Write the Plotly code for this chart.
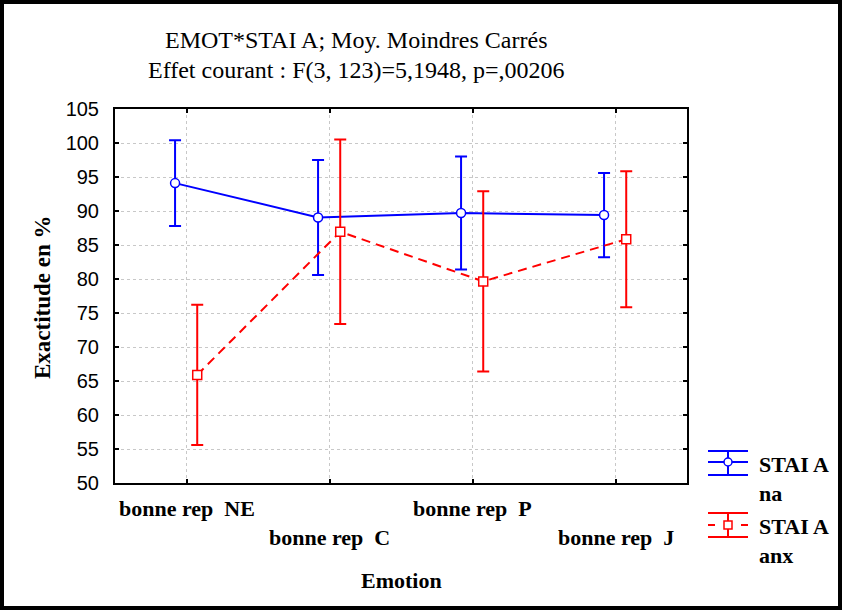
import plotly.graph_objects as go

# ---- data ----
categories = ["bonne rep  NE", "bonne rep  C", "bonne rep  P", "bonne rep  J"]
tick_rows = [0, 1, 0, 1]
series_names = ["STAI A<br>na", "STAI A<br>anx"]
na_mean = [94.1, 89.05, 89.7, 89.4]
na_err = [6.3, 8.45, 8.3, 6.2]
anx_mean = [65.9, 86.95, 79.65, 85.85]
anx_err = [10.3, 13.55, 13.25, 10.0]
y_ticks = [50, 55, 60, 65, 70, 75, 80, 85, 90, 95, 100, 105]
title_lines = ["EMOT*STAI A; Moy. Moindres Carrés",
               "Effet courant : F(3, 123)=5,1948, p=,00206"]
x_title = "Emotion"
y_title = "Exactitude en %"

# ---- layout geometry ----
W, H = 842, 610
L, R, T, B = 115, 687, 109, 483


def px(x):
    return (x - L) / (R - L)


def py(y):
    return (B - y) / (B - T)


BLUE = "#0000FF"
RED = "#FF0000"
serif = "Liberation Serif, Times New Roman, serif"
sans = "Liberation Sans, Arial, sans-serif"

xs = list(range(len(categories)))
off_na, off_anx = -0.08, 0.075

fig = go.Figure()
fig.add_trace(go.Scatter(
    x=[x + off_na for x in xs], y=na_mean, mode="lines+markers",
    name=series_names[0], showlegend=False,
    line=dict(color=BLUE, width=2),
    marker=dict(symbol="circle", size=9, color="white", line=dict(color=BLUE, width=1.5)),
    error_y=dict(type="data", array=na_err, color=BLUE, thickness=2, width=6),
))
fig.add_trace(go.Scatter(
    x=[x + off_anx for x in xs], y=anx_mean, mode="lines+markers",
    name=series_names[1], showlegend=False,
    line=dict(color=RED, width=2, dash="9px,6px"),
    marker=dict(symbol="square", size=9, color="white", line=dict(color=RED, width=1.5)),
    error_y=dict(type="data", array=anx_err, color=RED, thickness=2, width=6),
))

annotations = []
# title
for yy, txt in zip([40, 70], title_lines):
    annotations.append(dict(text=txt, x=px(356), y=py(yy), xref="paper", yref="paper",
                            xanchor="center", yanchor="middle", showarrow=False,
                            font=dict(family=serif, size=24, color="black")))
# x tick labels (two staggered rows)
for i, (lab, row) in enumerate(zip(categories, tick_rows)):
    yy = 508 if row == 0 else 537
    annotations.append(dict(text="<b>%s</b>" % lab, x=i, xref="x", y=py(yy), yref="paper",
                            xanchor="center", yanchor="middle", showarrow=False,
                            font=dict(family=serif, size=22, color="black")))
# axis titles
annotations.append(dict(text="<b>%s</b>" % x_title, x=px(401), y=py(580), xref="paper", yref="paper",
                        xanchor="center", yanchor="middle", showarrow=False,
                        font=dict(family=serif, size=22, color="black")))
annotations.append(dict(text="<b>%s</b>" % y_title, x=px(42), y=py(297), xref="paper", yref="paper",
                        xanchor="center", yanchor="middle", showarrow=False, textangle=-90,
                        font=dict(family=serif, size=23, color="black")))
# legend text
for name, yc in zip(series_names, [479, 541]):
    annotations.append(dict(text="<b>%s</b>" % name, x=px(757), y=py(yc), xref="paper", yref="paper",
                            xanchor="left", yanchor="middle", showarrow=False, align="left",
                            font=dict(family=serif, size=22, color="black")))

shapes = []
# outer frame
shapes.append(dict(type="rect", xref="paper", yref="paper",
                   x0=px(2), x1=px(840), y0=py(608), y1=py(2),
                   line=dict(color="black", width=4), fillcolor="rgba(0,0,0,0)", layer="above"))


def seg(x0, y0, x1, y1, color, dash="solid"):
    shapes.append(dict(type="line", xref="paper", yref="paper",
                       x0=px(x0), y0=py(y0), x1=px(x1), y1=py(y1),
                       line=dict(color=color, width=2, dash=dash)))


# legend glyph: blue
seg(708, 451, 748, 451, BLUE)
seg(708, 475, 748, 475, BLUE)
seg(708, 462, 748, 462, BLUE)
seg(728, 451, 728, 475, BLUE)
shapes.append(dict(type="circle", xref="paper", yref="paper",
                   x0=px(724), x1=px(732), y0=py(466), y1=py(458),
                   line=dict(color=BLUE, width=1.5), fillcolor="white"))
# legend glyph: red
seg(708, 513, 748, 513, RED)
seg(708, 537, 748, 537, RED)
seg(708, 525, 715, 525, RED)
seg(741, 525, 748, 525, RED)
seg(728, 513, 728, 537, RED)
shapes.append(dict(type="rect", xref="paper", yref="paper",
                   x0=px(724), x1=px(732), y0=py(529), y1=py(521),
                   line=dict(color=RED, width=1.5), fillcolor="white"))

fig.update_layout(
    width=W, height=H,
    margin=dict(l=L, r=W - R, t=T, b=H - B, pad=0),
    paper_bgcolor="white", plot_bgcolor="white",
    showlegend=False,
    annotations=annotations, shapes=shapes,
    xaxis=dict(range=[-0.5, 3.5], tickvals=xs, showticklabels=False,
               showgrid=True, gridcolor="#c8c8c8", griddash="dot", gridwidth=1,
               showline=True, linecolor="black", linewidth=2, mirror="allticks",
               ticks="inside", ticklen=4, tickwidth=2, tickcolor="black", zeroline=False),
    yaxis=dict(range=[50, 105], tickvals=y_ticks, ticktext=[str(v) for v in y_ticks],
               tickfont=dict(family=sans, size=20, color="black"),
               showgrid=True, gridcolor="#c8c8c8", griddash="dot", gridwidth=1,
               showline=True, linecolor="black", linewidth=2, mirror="allticks",
               ticks="inside", ticklen=4, tickwidth=2, tickcolor="black",
               ticklabelstandoff=10, zeroline=False),
)

fig.write_html("out.html", config={"displayModeBar": False},
               post_script="document.body.style.margin='0';document.body.style.padding='0';")
